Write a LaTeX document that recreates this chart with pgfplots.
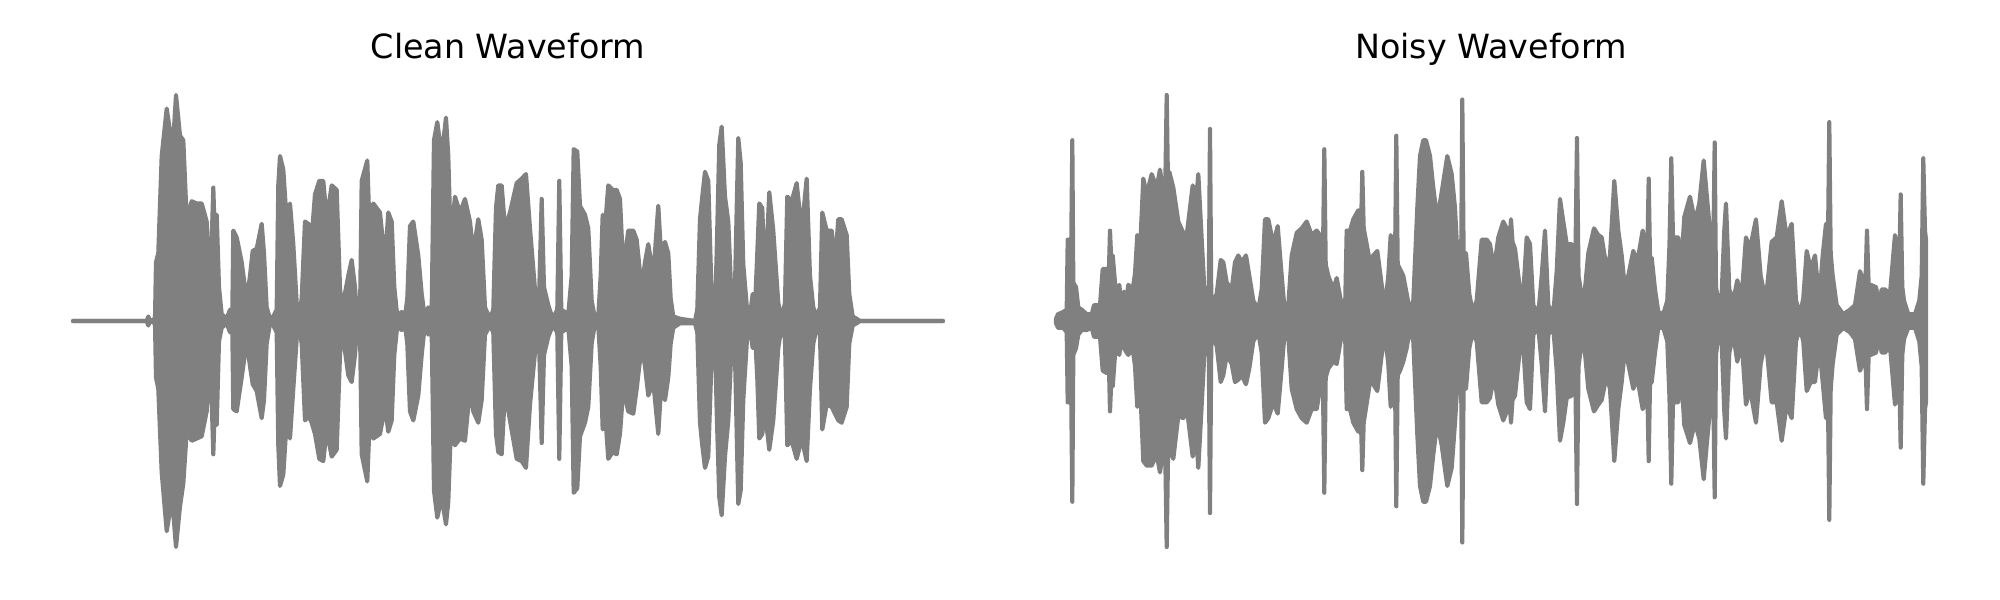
\documentclass[border=0pt]{standalone}
\usepackage{pgfplots}
\pgfplotsset{compat=1.18}
\usepackage{pgfplotstable}
\usepackage{fontspec}
\setmainfont{DejaVu Sans}

% envelope of the clean waveform: x, upper, lower
\pgfplotstableread{
x top bot
0 0 0
73.7 0 0
75.3 0.02 -0.02
77 0 0
82 0.01 -0.01
83 0.26 -0.25
85.3 0.30 -0.30
88.7 0.73 -0.67
93.7 0.94 -0.93
97 0.84 -0.84
100.3 0.80 -0.85
103 1.00 -1.00
107 0.82 -0.82
110.3 0.80 -0.72
113.7 0.45 -0.49
118.7 0.53 -0.53
123.7 0.52 -0.52
128.7 0.52 -0.51
133.7 0.44 -0.40
136.3 0.20 -0.20
138.7 0.35 -0.35
140.3 0.59 -0.59
142 0.35 -0.35
143.7 0.47 -0.46
146 0.15 -0.09
148.7 0.03 -0.03
153.7 0.01 -0.01
157 0.05 -0.05
159.3 0.03 -0.03
160.3 0.40 -0.39
163.7 0.37 -0.40
168.7 0.26 -0.25
173.7 0.09 -0.09
177 0.20 -0.20
179.7 0.31 -0.28
183.7 0.32 -0.31
188.7 0.43 -0.43
191 0.30 -0.35
193.7 0.06 -0.10
197 0.01 -0.01
200.3 0.02 -0.02
203.7 0.05 -0.05
205.3 0.60 -0.55
207 0.73 -0.73
210.3 0.67 -0.68
213.7 0.44 -0.44
217 0.52 -0.52
220.3 0.34 -0.30
223.7 0.08 -0.08
226.3 0.02 -0.03
228.7 0.10 -0.10
232 0.44 -0.44
235.3 0.43 -0.42
238.7 0.37 -0.45
242 0.56 -0.50
246.3 0.62 -0.61
250.3 0.62 -0.62
253.7 0.45 -0.48
258.7 0.60 -0.60
263.7 0.58 -0.57
267 0.15 -0.15
269 0.02 -0.02
271 0.10 -0.10
275.3 0.20 -0.24
278.7 0.27 -0.27
282 0.15 -0.15
284.3 0.01 -0.01
287 0.02 -0.02
288.7 0.62 -0.59
294.3 0.71 -0.71
297 0.35 -0.40
300.3 0.52 -0.52
307 0.48 -0.50
312 0.26 -0.38
315.3 0.48 -0.49
318.7 0.44 -0.44
321.3 0.15 -0.15
324.3 0.02 -0.02
328.7 0.04 -0.04
332 0.02 -0.02
334.3 0.10 -0.10
337 0.42 -0.40
340.3 0.44 -0.44
345.3 0.29 -0.33
348.7 0.12 -0.15
352 0.01 -0.01
355.3 0.06 -0.06
358.7 0.05 -0.05
361 0.80 -0.75
364.3 0.88 -0.87
368.7 0.73 -0.78
373 0.90 -0.90
375.3 0.73 -0.80
377.7 0.35 -0.50
382 0.55 -0.55
387 0.48 -0.52
392 0.54 -0.53
397 0.44 -0.30
400.3 0.30 -0.40
405.3 0.45 -0.45
408.7 0.36 -0.35
412 0.06 -0.06
417 0.01 -0.02
420.3 0.05 -0.05
423 0.50 -0.50
425.3 0.60 -0.58
428.7 0.60 -0.59
432 0.41 -0.31
437 0.48 -0.44
443.7 0.61 -0.61
448.7 0.63 -0.62
453 0.65 -0.65
457 0.41 -0.37
462 0.14 -0.14
466.3 0.14 -0.13
468.7 0.54 -0.54
471 0.15 -0.15
475.3 0.07 -0.07
479.7 0.01 -0.02
484.3 0.05 -0.05
486.3 0.62 -0.61
488.3 0.05 -0.05
492 0.04 -0.04
495.3 0.03 -0.03
498.7 0.20 -0.20
500.7 0.76 -0.76
504.3 0.75 -0.74
507 0.51 -0.51
512 0.47 -0.45
515.3 0.41 -0.38
518.7 0.09 -0.10
522 0.01 -0.01
525.3 0.02 -0.02
527.7 0.20 -0.20
529.7 0.47 -0.48
532 0.41 -0.40
535.3 0.60 -0.61
539.7 0.58 -0.58
543.7 0.58 -0.59
547 0.54 -0.50
550.3 0.23 -0.30
555.3 0.40 -0.40
560.3 0.40 -0.41
563.7 0.36 -0.30
568.7 0.14 -0.11
572 0.26 -0.20
575.3 0.34 -0.33
580.3 0.20 -0.27
585.3 0.51 -0.50
588 0.30 -0.30
592 0.35 -0.35
595.3 0.30 -0.25
597.7 0.10 -0.10
600.3 0.02 -0.03
607 0.01 -0.01
622 0.00 -0.01
624.3 0.05 -0.05
627 0.45 -0.45
629.3 0.55 -0.55
632 0.66 -0.65
635.3 0.62 -0.60
638.7 0.10 -0.15
642 0.03 -0.06
643.7 0.30 -0.40
646.3 0.78 -0.78
648.7 0.86 -0.86
652 0.55 -0.60
655.3 0.44 -0.44
658.7 0.08 -0.10
662 0.15 -0.15
665.3 0.81 -0.81
667.7 0.70 -0.75
670.3 0.25 -0.35
674.3 0.04 -0.06
677 0.02 -0.03
679.7 0.12 -0.12
681.7 0.03 -0.03
684.3 0.30 -0.25
686.3 0.52 -0.52
689.3 0.50 -0.50
692 0.15 -0.40
696.3 0.57 -0.57
700.3 0.40 -0.44
705.3 0.08 -0.12
708.7 0.01 -0.02
712 0.08 -0.08
714.3 0.55 -0.55
718.7 0.53 -0.53
723.7 0.61 -0.61
728.7 0.40 -0.52
733.7 0.63 -0.62
737 0.20 -0.30
740.3 0.06 -0.10
743.7 0.02 -0.03
747 0.06 -0.06
749.3 0.48 -0.48
753.7 0.40 -0.37
758.7 0.40 -0.38
762 0.25 -0.41
765.3 0.45 -0.44
768.7 0.45 -0.45
773.7 0.38 -0.38
776.3 0.12 -0.10
779.7 0.02 -0.02
783.7 0.01 -0.01
787 0 0
870 0 0
}\cleandata

% envelope of the noisy waveform: x, upper, lower
\pgfplotstableread{
x top bot
0 0.01 -0.01
2 0.03 -0.03
7.3 0.04 -0.03
10.7 0.05 -0.05
11.7 0.36 -0.36
13.3 0.36 -0.36
14.7 0.10 -0.10
16.3 0.80 -0.80
17.3 0.17 -0.15
20 0.15 -0.12
22.3 0.06 -0.06
25.7 0.05 -0.04
30.7 0.03 -0.04
35.7 0.03 -0.03
38 0.07 -0.07
44 0.07 -0.07
46.7 0.23 -0.22
50.7 0.23 -0.23
52.7 0.19 -0.15
54 0.40 -0.40
55.7 0.22 -0.22
56.7 0.29 -0.29
59 0.17 -0.15
60.7 0.12 -0.12
63.3 0.16 -0.15
65.7 0.06 -0.07
68 0.13 -0.12
70.7 0.10 -0.14
72.3 0.16 -0.15
76.7 0.14 -0.12
79 0.21 -0.20
81.3 0.38 -0.38
84 0.31 -0.27
87.3 0.63 -0.62
90.7 0.56 -0.64
95.7 0.65 -0.64
100.7 0.59 -0.59
104 0.67 -0.67
107.3 0.56 -0.56
109.3 0.60 -0.60
110.7 1.00 -1.00
112 0.60 -0.60
113.3 0.66 -0.56
117.3 0.59 -0.61
122.3 0.44 -0.42
127.3 0.39 -0.43
130.7 0.38 -0.38
136.7 0.60 -0.60
140 0.53 -0.49
142.3 0.65 -0.65
145.7 0.36 -0.37
149 0.09 -0.09
152.7 0.08 -0.08
154 0.85 -0.85
155.3 0.08 -0.08
157.3 0.09 -0.08
160.7 0.12 -0.11
164.7 0.27 -0.27
167.3 0.26 -0.24
170.7 0.17 -0.15
175.7 0.14 -0.19
179 0.26 -0.27
182.3 0.29 -0.26
185.7 0.26 -0.24
190 0.29 -0.28
193.3 0.20 -0.21
197.3 0.09 -0.09
202.3 0.05 -0.05
205.7 0.14 -0.14
209 0.45 -0.45
212.3 0.45 -0.43
217.3 0.34 -0.36
221.7 0.42 -0.41
225.7 0.20 -0.21
229 0.03 -0.03
232.3 0.07 -0.07
235.7 0.29 -0.30
240.7 0.39 -0.39
245.7 0.41 -0.43
250.7 0.44 -0.45
255.7 0.38 -0.39
260.7 0.40 -0.39
264 0.38 -0.30
267 0.30 -0.30
268.3 0.76 -0.76
269.7 0.25 -0.25
272.3 0.20 -0.21
277.3 0.14 -0.18
280.7 0.19 -0.19
285.7 0.07 -0.06
289 0.03 -0.03
290.7 0.40 -0.39
294 0.40 -0.39
297.3 0.45 -0.45
302.3 0.49 -0.49
305 0.40 -0.45
306.3 0.66 -0.66
307.7 0.41 -0.45
314 0.26 -0.27
317.3 0.29 -0.28
321.3 0.31 -0.31
325.7 0.16 -0.15
329 0.06 -0.06
332.3 0.20 -0.19
334.7 0.38 -0.38
337.3 0.31 -0.25
339 0.25 -0.25
340.3 0.82 -0.82
341.7 0.25 -0.24
344 0.23 -0.22
347.3 0.20 -0.18
350.7 0.12 -0.12
354 0.04 -0.03
357.3 0.09 -0.09
361.3 0.50 -0.50
364 0.73 -0.73
367.3 0.80 -0.80
370 0.80 -0.80
374 0.73 -0.73
377.3 0.59 -0.59
381.3 0.45 -0.45
385.7 0.57 -0.55
391.3 0.73 -0.73
395.7 0.65 -0.65
399 0.50 -0.45
402.3 0.22 -0.21
405 0.15 -0.15
406.3 0.98 -0.98
407.7 0.25 -0.25
410 0.30 -0.30
413.3 0.12 -0.12
416.7 0.04 -0.05
420.7 0.09 -0.09
425.7 0.36 -0.36
430.7 0.36 -0.36
434 0.34 -0.34
438 0.23 -0.24
442.3 0.37 -0.37
447.3 0.44 -0.44
450.7 0.41 -0.40
453.5 0.35 -0.35
455 0.45 -0.45
456.5 0.35 -0.35
459 0.32 -0.33
464 0.14 -0.12
467.3 0.12 -0.11
470.7 0.37 -0.36
474 0.34 -0.39
477.3 0.07 -0.06
482.3 0.03 -0.03
485.7 0.20 -0.19
489 0.40 -0.40
492.3 0.07 -0.06
497.3 0.03 -0.03
500.7 0.22 -0.22
504 0.54 -0.53
507.3 0.44 -0.45
510.7 0.34 -0.34
515.7 0.34 -0.33
519.5 0.30 -0.30
521 0.81 -0.81
522.5 0.20 -0.20
524 0.16 -0.15
527.3 0.06 -0.06
532.3 0.30 -0.30
538 0.41 -0.40
542.3 0.38 -0.37
545.7 0.37 -0.35
550.7 0.23 -0.24
554 0.29 -0.30
558.3 0.62 -0.62
562.3 0.40 -0.39
565.7 0.29 -0.27
569 0.14 -0.12
572.3 0.20 -0.19
577.3 0.31 -0.30
581.3 0.26 -0.25
586.7 0.40 -0.39
590 0.32 -0.36
591.3 0.28 -0.28
592.7 0.63 -0.62
594 0.28 -0.28
595.7 0.28 -0.27
599 0.14 -0.14
602.3 0.04 -0.03
607.3 0.03 -0.03
611.3 0.09 -0.09
613.5 0.34 -0.34
615.3 0.72 -0.72
617 0.37 -0.36
622.3 0.37 -0.36
624.7 0.20 -0.19
628.3 0.46 -0.46
634 0.55 -0.54
639 0.44 -0.45
643.3 0.52 -0.52
647.7 0.71 -0.70
651.3 0.53 -0.52
655 0.35 -0.34
657.3 0.30 -0.30
658.7 0.79 -0.78
660 0.15 -0.15
661.7 0.10 -0.09
665.7 0.12 -0.09
668.3 0.40 -0.40
670 0.52 -0.52
673.3 0.14 -0.14
677.3 0.09 -0.06
681.3 0.18 -0.18
685.7 0.11 -0.09
690 0.37 -0.37
694 0.32 -0.30
700 0.45 -0.45
704.7 0.20 -0.19
708.3 0.12 -0.11
710.7 0.13 -0.12
715.7 0.35 -0.36
720.7 0.37 -0.36
725.7 0.53 -0.53
730.7 0.37 -0.37
735.7 0.43 -0.43
740 0.09 -0.09
744 0.03 -0.03
747.3 0.10 -0.09
750.7 0.31 -0.31
754.7 0.23 -0.27
759 0.29 -0.27
763.3 0.09 -0.11
766.7 0.29 -0.27
770 0.43 -0.43
772 0.35 -0.35
773.3 0.88 -0.88
774.7 0.30 -0.30
776.7 0.20 -0.19
780.7 0.07 -0.06
787.3 0.03 -0.03
794 0.05 -0.05
799 0.07 -0.08
804 0.22 -0.22
807.3 0.18 -0.18
809.7 0.20 -0.20
811 0.40 -0.39
812.7 0.15 -0.15
814.7 0.16 -0.15
820 0.15 -0.14
823.3 0.07 -0.07
825.7 0.14 -0.14
829 0.14 -0.14
834 0.12 -0.11
839 0.38 -0.37
841.7 0.31 -0.30
843.3 0.25 -0.25
844.7 0.56 -0.56
846.3 0.15 -0.15
848 0.09 -0.08
852.3 0.03 -0.03
859 0.03 -0.03
863.3 0.09 -0.09
865.7 0.20 -0.20
867.3 0.72 -0.72
869 0.40 -0.39
870 0.36 -0.36
}\noisydata

\pgfplotsset{
  wave/.style={hide axis, scale only axis, width=313.2pt, height=162.72pt,
    xmin=0, xmax=870, ymin=-1, ymax=1, clip=false, anchor=south west},
  env/.style={draw=gray, fill=gray, line width=1.5pt, line join=round, line cap=round},
}

\begin{document}
\begin{tikzpicture}
\path[use as bounding box] (0pt,0pt) rectangle (720pt,216pt);
\begin{axis}[wave, name=clean, at={(26.28pt,19.08pt)}]
  \addplot[env] table[x=x, y=top] {\cleandata} \closedcycle;
  \addplot[env] table[x=x, y=bot] {\cleandata} \closedcycle;
\end{axis}
\begin{axis}[wave, name=noisy, at={(380.16pt,19.08pt)}]
  \addplot[env] table[x=x, y=top] {\noisydata} \closedcycle;
  \addplot[env] table[x=x, y=bot] {\noisydata} \closedcycle;
\end{axis}
\node[anchor=base, font=\fontsize{12}{14.4}\selectfont, yshift=13.3pt] at (clean.north) {Clean Waveform};
\node[anchor=base, font=\fontsize{12}{14.4}\selectfont, yshift=13.3pt] at (noisy.north) {Noisy Waveform};
\end{tikzpicture}
\end{document}
